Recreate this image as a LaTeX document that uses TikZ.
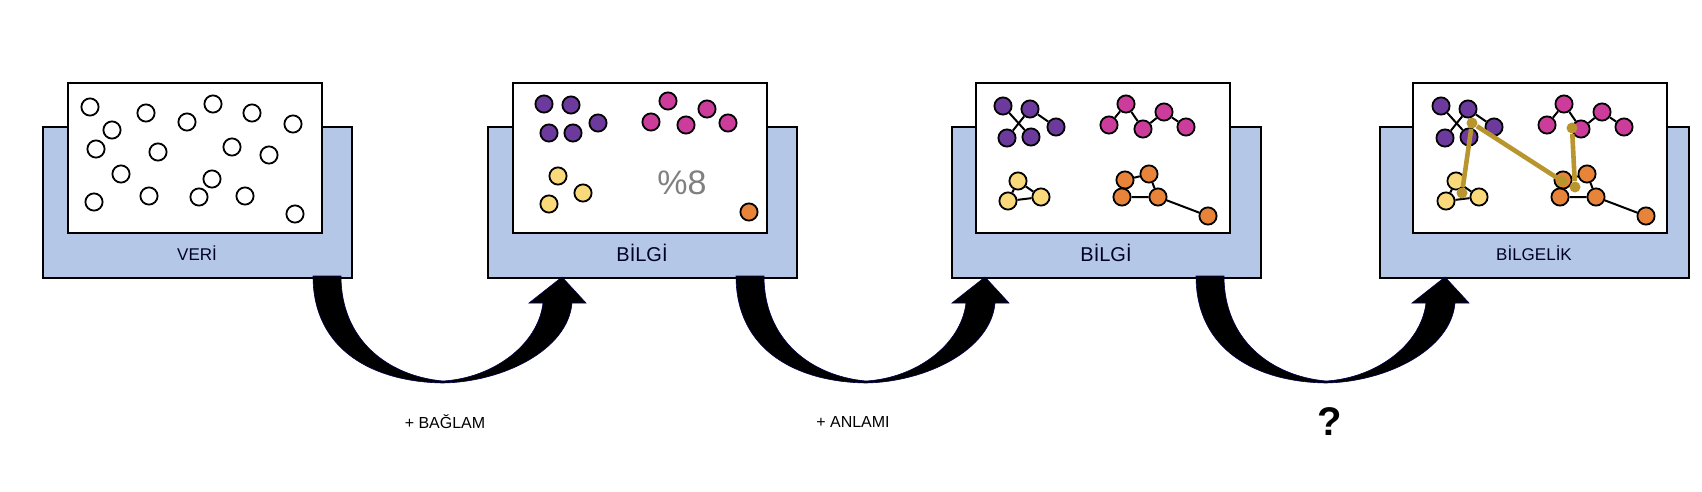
\documentclass[tikz,border=0pt]{standalone}
\usepackage{fontspec}
\setmainfont{Liberation Sans}
\begin{document}
\begin{tikzpicture}[x=0.5pt,y=-0.5pt,
  blue/.style={draw=black,line width=1.3pt,fill=bluefill},
  white/.style={draw=black,line width=1.3pt,fill=white},
  lab/.style={font=\fontsize{8.5}{10}\selectfont,text=black!85!blue},
  dot/.style={circle,draw=black,line width=0.9pt,inner sep=0pt,minimum size=8.6pt},
  e/.style={draw=black,line width=1pt},
  P/.style={dot,fill=cpur}, M/.style={dot,fill=cmag}, Y/.style={dot,fill=cyel}, O/.style={dot,fill=cora},
  gd/.style={circle,fill=gold,inner sep=0pt,minimum size=5.5pt},
  gl/.style={draw=gold,line width=2.3pt},
  arr/.style={fill=black,draw=black!70!blue,line width=0.3pt}]
\definecolor{bluefill}{HTML}{B4C7E7}
\definecolor{cpur}{HTML}{6B3A9C}
\definecolor{cmag}{HTML}{CC3D9B}
\definecolor{cyel}{HTML}{FAD97A}
\definecolor{cora}{HTML}{E8833A}
\definecolor{gold}{HTML}{B8952D}
\useasboundingbox (0,0) rectangle (1702,492);
\newcommand\myarrow[1]{%
 \begin{scope}[shift={(#1,0)}]
 \path[arr] (0,276) .. controls (0,350) and (60,382) .. (130,383)
   .. controls (190,382) and (255,350) .. (259,303) -- (273,303) -- (249,277) -- (216,303) -- (230,303)
   .. controls (225,345) and (180,378) .. (130,381)
   .. controls (75,376) and (28,340) .. (28,276) -- cycle;
 \end{scope}}
% panels
\foreach \bx/\wx in {43/68, 488/513, 952/976, 1380/1413}{
  \draw[blue] (\bx,127) rectangle ++(309,151);
  \draw[white] (\wx,83) rectangle ++(254,150);
}
\node[lab] (l1) at (197,253) {VERİ};
\node[lab,font=\fontsize{10}{12}\selectfont] (l2) at (642,253) {BİLGİ};
\node[lab,font=\fontsize{10}{12}\selectfont] (l3) at (1106,253) {BİLGİ};
\node[lab] (l4) at (1534,253) {BİLGELİK};
% panel 1
\foreach \x/\y [count=\i] in {90/107,112/130,96/149,146/113,187/122,213/104,252/113,293/124,158/152,232/147,269/155,121/174,212/179,94/202,149/196,199/197,245/196,295/214}
  \node[dot,fill=white] (a\i) at (\x,\y) {};
% panel 2
\foreach \x/\y [count=\i] in {544/104,571/105,598/123,549/133,573/133} \node[P] (bp\i) at (\x,\y) {};
\foreach \x/\y [count=\i] in {668/101,651/122,686/125,707/109,728/123} \node[M] (bm\i) at (\x,\y) {};
\foreach \x/\y [count=\i] in {558/176,583/193,549/204} \node[Y] (by\i) at (\x,\y) {};
\node[O] (bo1) at (749,212) {};
\node[font=\fontsize{17}{20}\selectfont,text=black!50] (pct) at (682,183) {\%8};
% panel 3 and 4 graphs
\newcommand\mygraph[2]{%
 \begin{scope}[shift={(#2,0)}]
 \node[P] (#1p1) at (1003,106) {}; \node[P] (#1p2) at (1030,109) {}; \node[P] (#1p3) at (1056,127) {};
 \node[P] (#1p4) at (1007,138) {}; \node[P] (#1p5) at (1031,137) {};
 \node[M] (#1m1) at (1126,104) {}; \node[M] (#1m2) at (1109,125) {}; \node[M] (#1m3) at (1143,129) {};
 \node[M] (#1m4) at (1164,112) {}; \node[M] (#1m5) at (1186,127) {};
 \node[Y] (#1y1) at (1018,181) {}; \node[Y] (#1y2) at (1008,201) {}; \node[Y] (#1y3) at (1041,197) {};
 \node[O] (#1o1) at (1125,180) {}; \node[O] (#1o2) at (1149,174) {}; \node[O] (#1o3) at (1122,197) {};
 \node[O] (#1o4) at (1158,197) {}; \node[O] (#1o5) at (1208,216) {};
 \end{scope}
 \draw[e] (#1p1)--(#1p5) (#1p2)--(#1p4) (#1p2)--(#1p3)
   (#1m2)--(#1m1)--(#1m3)--(#1m4)--(#1m5)
   (#1y1)--(#1y2)--(#1y3)--(#1y1)
   (#1o1)--(#1o2) (#1o1)--(#1o3) (#1o2)--(#1o4) (#1o3)--(#1o4) (#1o4)--(#1o5);
}
\mygraph{c}{0}
\mygraph{d}{438}
% gold
\node[gd] (g1) at (1472,123) {};
\node[gd] (g2) at (1462,193) {};
\node[gd] (g3) at (1572,128) {};
\node[gd] (g4) at (1575,187) {};
\node[gd] (g5) at (1562,181) {};
\draw[gl] (g2)--(g1)--(g5) (g3)--(g4);
% arrows
\myarrow{313}
\myarrow{736}
\myarrow{1196}
\node[font=\fontsize{8}{10}\selectfont] (t1) at (445,422) {+ BAĞLAM};
\node[font=\fontsize{8}{10}\selectfont] (t2) at (853,422) {+ ANLAMI};
\node[font=\fontsize{20}{24}\selectfont\bfseries] (t3) at (1330,422) {?};
\end{tikzpicture}
\end{document}
